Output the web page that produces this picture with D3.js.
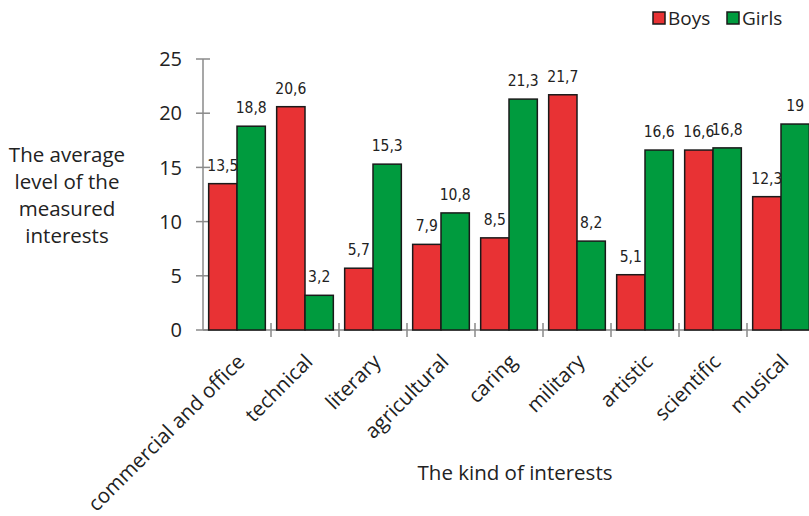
<!DOCTYPE html>
<html><head><meta charset="utf-8">
<script src="https://cdn.jsdelivr.net/npm/d3@7"></script>
<style>
body{margin:0;background:#fff;}
svg{display:block;}
</style></head>
<body>
<svg id="c" width="809" height="516"></svg>
<script>
const categories = ["commercial and office","technical","literary","agricultural","caring","military","artistic","scientific","musical"];
const boys  = [13.5, 20.6, 5.7, 7.9, 8.5, 21.7, 5.1, 16.6, 12.3];
const girls = [18.8, 3.2, 15.3, 10.8, 21.3, 8.2, 16.6, 16.8, 19];
const seriesNames = ["Boys","Girls"];
const yTicks = [0,5,10,15,20,25];
const colors = {Boys:"#E83234", Girls:"#009B3E"};

const svg = d3.select("#c");
const font = "'Open Sans', 'Noto Sans', sans-serif";
const narrow = "'Liberation Sans Narrow', 'DejaVu Sans Condensed', sans-serif";
const txt = "#222";
const axisCol = "#8a8a8a";

const x0 = d3.scaleBand().domain(categories).range([203, 815]).padding(0);
const x1 = d3.scaleBand().domain(seriesNames).range([0, x0.bandwidth()]).paddingInner(0).paddingOuter(0.2);
const y = d3.scaleLinear().domain([0,25]).range([330, 59]);

const data = categories.map((c,i)=>({cat:c, vals:[{s:"Boys",v:boys[i]},{s:"Girls",v:girls[i]}]}));

// axes lines
svg.append("line").attr("x1",x0.range()[0]).attr("x2",809).attr("y1",y(0)).attr("y2",y(0))
  .attr("stroke",axisCol).attr("stroke-width",1.5);
svg.append("line").attr("x1",x0.range()[0]).attr("x2",x0.range()[0]).attr("y1",y(0)).attr("y2",y(25))
  .attr("stroke",axisCol).attr("stroke-width",1.5);

// y ticks
yTicks.forEach(t=>{
  svg.append("line").attr("x1",x0.range()[0]-7).attr("x2",x0.range()[0]+7).attr("y1",y(t)).attr("y2",y(t))
    .attr("stroke",axisCol).attr("stroke-width",1.5);
  svg.append("text").attr("x",182).attr("y",y(t)).attr("dy","0.36em").attr("text-anchor","end")
    .attr("font-family",font).attr("font-size",20).attr("fill",txt).text(t);
});

// x ticks at band boundaries
categories.forEach(c=>{
  const xb = x0(c)+x0.bandwidth();
  svg.append("line").attr("x1",xb).attr("x2",xb).attr("y1",y(0)-7).attr("y2",y(0)+7)
    .attr("stroke",axisCol).attr("stroke-width",1.5);
});

// bars
const g = svg.selectAll("g.cat").data(data).enter().append("g").attr("class","cat")
  .attr("transform",d=>`translate(${x0(d.cat)},0)`);
g.selectAll("rect").data(d=>d.vals).enter().append("rect")
  .attr("x",d=>x1(d.s)).attr("width",x1.bandwidth())
  .attr("y",d=>y(d.v)).attr("height",d=>y(0)-y(d.v))
  .attr("fill",d=>colors[d.s]).attr("stroke","#1a1a1a").attr("stroke-width",1.5);
g.selectAll("text").data(d=>d.vals).enter().append("text")
  .attr("x",d=>x1(d.s)+x1.bandwidth()/2).attr("y",d=>y(d.v)-13)
  .attr("text-anchor","middle").attr("font-family",narrow).attr("font-size",15.5).attr("fill",txt)
  .text(d=>String(d.v).replace(".",","));

// category labels
categories.forEach(c=>{
  const cx = x0(c)+x0.bandwidth()/2;
  svg.append("text").attr("transform",`translate(${cx+9},${y(0)+33}) rotate(-45)`)
    .attr("text-anchor","end").attr("font-family",font).attr("font-size",20.5).attr("fill",txt).text(c);
});

// axis titles
svg.append("text").attr("x",515).attr("y",480).attr("text-anchor","middle")
  .attr("font-family",font).attr("font-size",20.5).attr("fill",txt).text("The kind of interests");
const yt = ["The average","level of the","measured","interests"];
yt.forEach((l,i)=>{
  svg.append("text").attr("x",67).attr("y",162+i*27).attr("text-anchor","middle")
    .attr("font-family",font).attr("font-size",20.5).attr("fill",txt).text(l);
});

// legend
const leg = [{s:"Boys",x:653},{s:"Girls",x:727}];
leg.forEach(l=>{
  svg.append("rect").attr("x",l.x).attr("y",12).attr("width",12).attr("height",12)
    .attr("fill",colors[l.s]).attr("stroke","#1a1a1a").attr("stroke-width",1.5);
  svg.append("text").attr("x",l.x+15).attr("y",18).attr("dy","0.36em")
    .attr("font-family",font).attr("font-size",19).attr("fill",txt).text(l.s);
});
</script>
</body></html>
